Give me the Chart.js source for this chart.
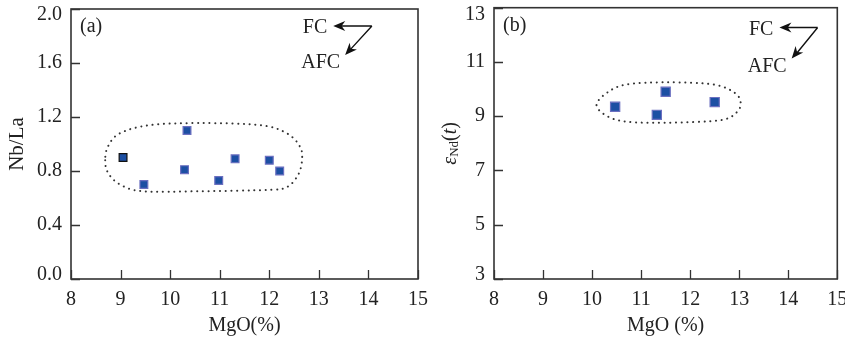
<!DOCTYPE html>
<html>
<head>
<meta charset="utf-8">
<script src="https://cdn.jsdelivr.net/npm/chart.js@4.4.1/dist/chart.umd.min.js"></script>
<style>
  html, body { margin: 0; padding: 0; background: #fff; }
  .wrap { position: relative; width: 845px; height: 341px; }
  .wrap canvas { position: absolute; left: 0; top: 0; }
</style>
</head>
<body>
<div class="wrap">
  <canvas id="chartA" width="845" height="341"></canvas>
  <canvas id="chartB" width="845" height="341"></canvas>
</div>
<script>
// panel (a): Nb/La vs MgO
const mgoA = [9.05, 9.47, 10.34, 10.29, 10.98, 11.31, 12.0, 12.21]
const nbLa = [0.90, 0.70, 1.10, 0.81, 0.73, 0.89, 0.88, 0.80]
// panel (b): eNd(t) vs MgO
const mgoB = [10.47, 11.32, 11.5, 12.5]
const eNd = [9.35, 9.05, 9.9, 9.52]

const mgoTicks = [8, 9, 10, 11, 12, 13, 14, 15]
const nbLaTicks = [0.0, 0.4, 0.8, 1.2, 1.6, 2.0]
const eNdTicks = [3, 5, 7, 9, 11, 13]

// dotted field outlines (data units)
const fieldA_x = [8.69, 8.75, 8.99, 9.45, 10.6, 11.95, 12.35, 12.58, 12.66, 12.62, 12.35, 11.81, 10.6, 9.59, 8.99, 8.75]
const fieldA_y = [0.88, 0.785, 0.70, 0.65, 0.65, 0.66, 0.68, 0.77, 0.88, 0.98, 1.08, 1.14, 1.155, 1.14, 1.08, 0.985]
const fieldB_x = [10.09, 10.30, 10.70, 11.52, 12.47, 12.91, 13.03, 12.94, 12.60, 11.52, 10.70, 10.30]
const fieldB_y = [9.41, 9.86, 10.17, 10.25, 10.17, 9.86, 9.49, 9.13, 8.85, 8.76, 8.80, 9.01]

// FC / AFC trend arrows: [corner, FC tip, AFC tip] in data units
const trendA_x = [14.07, 13.29, 13.53]
const trendA_y = [1.874, 1.874, 1.66]
const trendB_x = [14.6, 13.82, 14.07]
const trendB_y = [12.27, 12.27, 11.13]

const SERIF = '"Liberation Serif", "DejaVu Serif", serif'
const INK = '#222'

const toPoints = (xs, ys) => xs.map((x, i) => ({ x, y: ys[i] }))

function drawArrowHead(ctx, x0, y0, x1, y1) {
  const ang = Math.atan2(y1 - y0, x1 - x0)
  const len = 12, w = 5
  ctx.beginPath()
  ctx.moveTo(x1, y1)
  ctx.lineTo(x1 - len * Math.cos(ang) + w * Math.sin(ang), y1 - len * Math.sin(ang) - w * Math.cos(ang))
  ctx.lineTo(x1 - len * 0.7 * Math.cos(ang), y1 - len * 0.7 * Math.sin(ang))
  ctx.lineTo(x1 - len * Math.cos(ang) - w * Math.sin(ang), y1 - len * Math.sin(ang) + w * Math.cos(ang))
  ctx.closePath()
  ctx.fill()
}

// closed smooth outline through the field points (Catmull-Rom)
function closedCurve(ctx, pts) {
  const n = pts.length
  ctx.beginPath()
  ctx.moveTo(pts[0].x, pts[0].y)
  for (let i = 0; i < n; i++) {
    const p0 = pts[(i - 1 + n) % n], p1 = pts[i], p2 = pts[(i + 1) % n], p3 = pts[(i + 2) % n]
    ctx.bezierCurveTo(
      p1.x + (p2.x - p0.x) / 6, p1.y + (p2.y - p0.y) / 6,
      p2.x - (p3.x - p1.x) / 6, p2.y - (p3.y - p1.y) / 6,
      p2.x, p2.y)
  }
  ctx.closePath()
}

const framePlugin = {
  id: 'frame',
  beforeDraw(chart) {
    // keep the end labels of the y axis inside the frame
    const y = chart.scales.y
    const items = y.getLabelItems(chart.chartArea)
    const a = chart.chartArea
    items[0].options.translation[1] = a.bottom - 4
    items[items.length - 1].options.translation[1] = 15
  },
  beforeDatasetsDraw(chart, args, opts) {
    const { ctx, scales: { x, y } } = chart
    ctx.save()
    // dotted field
    const pts = toPoints(opts.fieldX, opts.fieldY).map(p => ({ x: x.getPixelForValue(p.x), y: y.getPixelForValue(p.y) }))
    ctx.setLineDash([0.1, 5.6])
    ctx.lineCap = 'round'
    ctx.lineWidth = 2
    ctx.strokeStyle = '#333'
    closedCurve(ctx, pts)
    ctx.stroke()
    ctx.restore()
  },
  afterDraw(chart, args, opts) {
    const { ctx, chartArea: a, scales: { x, y } } = chart
    ctx.save()
    ctx.strokeStyle = '#333'
    ctx.lineWidth = 1.6
    ctx.strokeRect(a.left, a.top, a.right - a.left, a.bottom - a.top)
    // inward tick marks
    ctx.lineWidth = 1.3
    ctx.beginPath()
    x.ticks.forEach((t, i) => {
      const px = Math.round(x.getPixelForTick(i)) + 0.5
      ctx.moveTo(px, a.bottom); ctx.lineTo(px, a.bottom - 9)
    })
    y.ticks.forEach((t, i) => {
      const py = Math.round(y.getPixelForTick(i)) + 0.5
      ctx.moveTo(a.left, py); ctx.lineTo(a.left + 9, py)
    })
    ctx.stroke()

    // panel letter
    ctx.fillStyle = INK
    ctx.font = '20px ' + SERIF
    ctx.textBaseline = 'middle'
    ctx.textAlign = 'left'
    ctx.fillText(opts.letter, a.left + 9, a.top + 18)

    // FC / AFC arrows
    const cx = x.getPixelForValue(opts.trendX[0]), cy = y.getPixelForValue(opts.trendY[0])
    const fx = x.getPixelForValue(opts.trendX[1]), fy = y.getPixelForValue(opts.trendY[1])
    const ax = x.getPixelForValue(opts.trendX[2]), ay = y.getPixelForValue(opts.trendY[2])
    ctx.strokeStyle = '#111'
    ctx.fillStyle = '#111'
    ctx.lineWidth = 1.4
    ctx.beginPath()
    ctx.moveTo(cx, cy); ctx.lineTo(fx + 6, fy)
    ctx.moveTo(cx, cy); ctx.lineTo(ax + 4, ay - 4)
    ctx.stroke()
    drawArrowHead(ctx, cx, cy, fx, fy)
    drawArrowHead(ctx, cx, cy, ax, ay)
    ctx.fillStyle = INK
    ctx.textAlign = 'right'
    ctx.fillText('FC', fx - 6, fy + 2)
    ctx.fillText('AFC', ax - 5, ay + 8)

    // rich y title for eNd(t)
    if (opts.epsTitle) {
      ctx.translate(451, (a.top + a.bottom) / 2)
      ctx.rotate(-Math.PI / 2)
      ctx.textAlign = 'left'
      ctx.textBaseline = 'middle'
      const parts = [
        ['italic 20px ' + SERIF, '\u03B5', 0],
        ['13px ' + SERIF, 'Nd', 4],
        ['20px ' + SERIF, '(', 0],
        ['italic 20px ' + SERIF, 't', 0],
        ['20px ' + SERIF, ')', 0]
      ]
      let w = 0
      parts.forEach(p => { ctx.font = p[0]; w += ctx.measureText(p[1]).width })
      let off = -w / 2
      parts.forEach(p => {
        ctx.font = p[0]
        ctx.fillText(p[1], off, p[2])
        off += ctx.measureText(p[1]).width
      })
    }
    ctx.restore()
  }
}

function makeChart(id, cfg) {
  return new Chart(document.getElementById(id), {
    type: 'scatter',
    data: {
      datasets: [{
        data: toPoints(cfg.xs, cfg.ys),
        pointStyle: 'rect',
        pointRadius: cfg.radius,
        pointHoverRadius: cfg.radius,
        backgroundColor: '#1c4fa3',
        borderColor: cfg.borders,
        borderWidth: 1.2
      }]
    },
    options: {
      responsive: false,
      animation: false,
      events: [],
      layout: { padding: cfg.padding },
      plugins: {
        legend: { display: false },
        tooltip: { enabled: false },
        frame: {
          fieldX: cfg.fieldX, fieldY: cfg.fieldY,
          trendX: cfg.trendX, trendY: cfg.trendY,
          letter: cfg.letter, epsTitle: cfg.epsTitle
        }
      },
      scales: {
        x: {
          type: 'linear',
          min: 8, max: 15,
          afterBuildTicks: s => { s.ticks = mgoTicks.map(v => ({ value: v })) },
          afterFit: s => { s.height = 62; s.paddingLeft = 0; s.paddingRight = 0 },
          grid: { display: false, drawTicks: false },
          border: { display: false },
          ticks: { color: INK, font: { family: SERIF, size: 20 }, padding: 9, maxRotation: 0 },
          title: { display: true, text: cfg.xTitle, color: INK, font: { family: SERIF, size: 20 }, padding: { top: 0, bottom: 3 } }
        },
        y: {
          type: 'linear',
          min: cfg.yTicks[0], max: cfg.yTicks[cfg.yTicks.length - 1],
          afterBuildTicks: s => { s.ticks = cfg.yTicks.map(v => ({ value: v })) },
          afterFit: s => { s.width = cfg.yWidth; s.paddingTop = 0; s.paddingBottom = 0 },
          grid: { display: false, drawTicks: false },
          border: { display: false },
          ticks: { color: INK, font: { family: SERIF, size: 20 }, padding: 9, callback: cfg.yFmt },
          title: { display: !cfg.epsTitle, text: cfg.yTitle, color: INK, font: { family: SERIF, size: 21 }, padding: { top: 5, bottom: 0 } }
        }
      }
    },
    plugins: [framePlugin]
  })
}

makeChart('chartA', {
  xs: mgoA, ys: nbLa, radius: 5.5,
  borders: mgoA.map((v, i) => i === 0 ? '#111' : '#6b6fc0'),
  padding: { left: 0, right: 427, top: 9, bottom: 0 },
  yWidth: 71,
  yTicks: nbLaTicks, yFmt: v => v.toFixed(1),
  fieldX: fieldA_x, fieldY: fieldA_y, trendX: trendA_x, trendY: trendA_y,
  letter: '(a)', xTitle: 'MgO(%)', yTitle: 'Nb/La'
})

makeChart('chartB', {
  xs: mgoB, ys: eNd, radius: 6.5,
  borders: '#6b6fc0',
  padding: { left: 420, right: 7, top: 6, bottom: 0 },
  yWidth: 74,
  yTicks: eNdTicks, yFmt: v => String(v),
  fieldX: fieldB_x, fieldY: fieldB_y, trendX: trendB_x, trendY: trendB_y,
  letter: '(b)', xTitle: 'MgO (%)', yTitle: '', epsTitle: true
})
</script>
</body>
</html>
